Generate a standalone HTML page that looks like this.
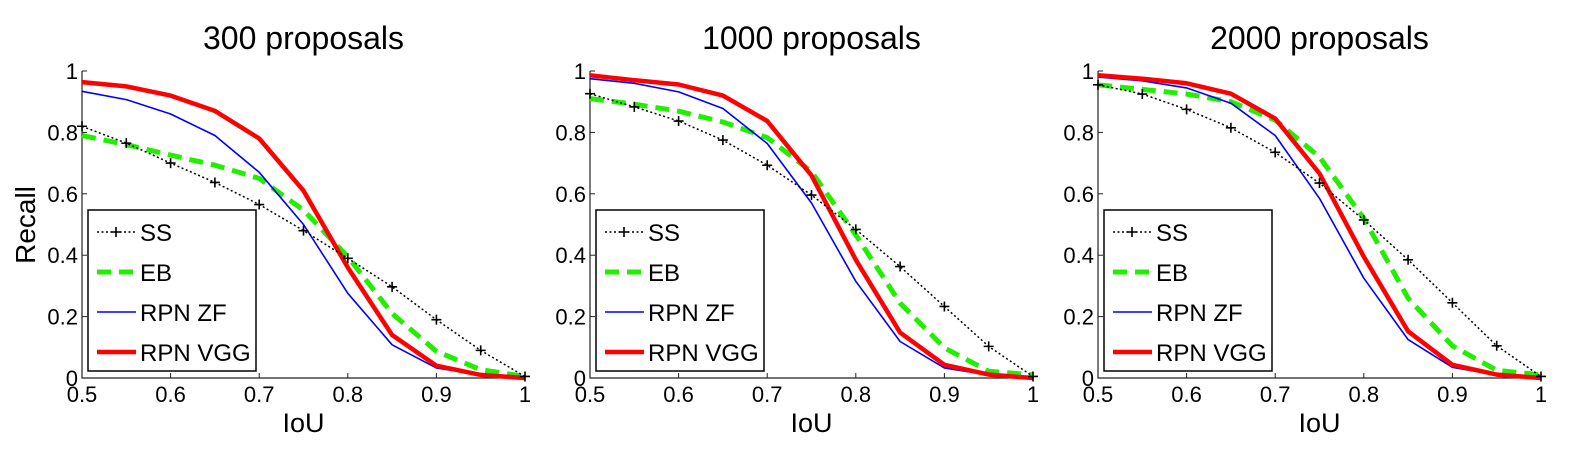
<!DOCTYPE html>
<html><head><meta charset="utf-8"><style>
html,body{margin:0;padding:0;background:#fff;}
svg{display:block;font-family:"Liberation Sans",sans-serif;}
</style></head><body>
<svg id="chart" width="1590" height="456" viewBox="0 0 1590 456"></svg>
<script>
const iouValues = [0.5,0.55,0.6,0.65,0.7,0.75,0.8,0.85,0.9,0.95,1];
const xTicks = [0.5,0.6,0.7,0.8,0.9,1];
const xTickLabels = ["0.5","0.6","0.7","0.8","0.9","1"];
const yTicks = [0,0.2,0.4,0.6,0.8,1];
const yTickLabels = ["0","0.2","0.4","0.6","0.8","1"];
const panelTitles = ["300 proposals","1000 proposals","2000 proposals"];
const seriesNames = ["SS","EB","RPN ZF","RPN VGG"];

const ss300 = [0.82,0.765,0.70,0.637,0.565,0.48,0.39,0.297,0.19,0.09,0.005];
const eb300 = [0.79,0.76,0.726,0.693,0.65,0.547,0.395,0.21,0.087,0.027,0.005];
const zf300 = [0.934,0.907,0.86,0.79,0.67,0.5,0.276,0.108,0.033,0.01,0];
const vgg300 = [0.964,0.95,0.92,0.87,0.78,0.61,0.36,0.14,0.04,0.01,0];

const ss1000 = [0.926,0.883,0.837,0.775,0.693,0.596,0.484,0.363,0.233,0.103,0.005];
const eb1000 = [0.91,0.892,0.869,0.834,0.783,0.672,0.466,0.244,0.098,0.022,0.01];
const zf1000 = [0.975,0.96,0.932,0.878,0.764,0.57,0.315,0.119,0.033,0.01,0];
const vgg1000 = [0.986,0.97,0.956,0.92,0.837,0.66,0.385,0.148,0.043,0.011,0];

const ss2000 = [0.955,0.925,0.875,0.815,0.735,0.635,0.515,0.385,0.245,0.105,0.005];
const eb2000 = [0.955,0.94,0.925,0.9,0.84,0.72,0.52,0.26,0.105,0.025,0.01];
const zf2000 = [0.98,0.968,0.945,0.895,0.79,0.585,0.325,0.125,0.035,0.01,0];
const vgg2000 = [0.986,0.975,0.96,0.926,0.845,0.666,0.395,0.152,0.043,0.011,0];

const panelData = [[ss300,eb300,zf300,vgg300],[ss1000,eb1000,zf1000,vgg1000],[ss2000,eb2000,zf2000,vgg2000]];

const NS="http://www.w3.org/2000/svg";
const svg=document.getElementById('chart');
function mk(tag,attrs,parent){const e=document.createElementNS(NS,tag);for(const k in attrs)e.setAttribute(k,attrs[k]);(parent||svg).appendChild(e);return e;}

const panelLefts=[82,590,1098];
const PW=443, TOP=71, BOT=378;
const styles=[
 {stroke:"#000",width:1.5,dash:"2,2.5"},
 {stroke:"#22ee00",width:5,dash:"14,8"},
 {stroke:"#0000ff",width:1.6,dash:""},
 {stroke:"#ff0000",width:4.5,dash:""}
];

panelLefts.forEach((L,p)=>{
  const g=mk('g',{});
  
  
  const xs=v=>L+(v-0.5)/0.5*PW;
  const ys=v=>BOT-v*(BOT-TOP);
  const t=mk('text',{x:L+PW/2,y:49,'font-size':32,'text-anchor':'middle',fill:'#000'},g);
  t.textContent=panelTitles[p];
  
  
  const ax=mk('path',{d:`M${L},${TOP} V${BOT} H${L+PW}`,stroke:'#222',fill:'none','stroke-width':1.2},g);
  
  
  yTicks.forEach((v,i)=>{
    mk('line',{x1:L,x2:L+5,y1:ys(v),y2:ys(v),stroke:'#222','stroke-width':1},g);
    const tl=mk('text',{x:L-4,y:ys(v)+8,'font-size':22,'text-anchor':'end',fill:'#000'},g);
    tl.textContent=yTickLabels[i];
    
    
  });
  xTicks.forEach((v,i)=>{
    mk('line',{x1:xs(v),x2:xs(v),y1:BOT,y2:BOT-5,stroke:'#222','stroke-width':1},g);
    const tl=mk('text',{x:xs(v),y:BOT+24,'font-size':22,'text-anchor':'middle',fill:'#000'},g);
    tl.textContent=xTickLabels[i];
    
    
  });
  const xt=mk('text',{x:L+PW/2,y:432,'font-size':27,'text-anchor':'middle',fill:'#000'},g);
  xt.textContent='IoU';
  
  
  if(p===0){
    const yt=mk('text',{x:0,y:0,'font-size':28,'text-anchor':'middle',fill:'#000',transform:'translate(35,225) rotate(-90)'},g);
    yt.textContent='Recall';
    
    
  }
  const order=[1,2,3,0];
  order.forEach(si=>{
    const vals=panelData[p][si];
    const d=vals.map((v,i)=>(i?'L':'M')+xs(iouValues[i]).toFixed(1)+','+ys(v).toFixed(1)).join(' ');
    const s=styles[si];
    const pl=mk('path',{d:d,fill:'none',stroke:s.stroke,'stroke-width':s.width,'stroke-dasharray':s.dash,'stroke-linejoin':'round'},g);
    
    
    if(si===0){
      vals.forEach((v,i)=>{
        const x=xs(iouValues[i]),y=ys(v);
        const m=mk('path',{d:`M${x-5},${y}H${x+5}M${x},${y-5}V${y+5}`,stroke:'#000','stroke-width':1.6},g);
        
        
      });
    }
  });
  const lg=mk('g',{},g);
  
  
  const lx=L+6, ly=210;
  mk('rect',{x:lx,y:ly,width:168,height:161,fill:'#fff',stroke:'#000','stroke-width':1.5},lg);
  seriesNames.forEach((n,si)=>{
    const ey=ly+22+si*40;
    const s=styles[si];
    const e=mk('g',{},lg);
    
    
    mk('line',{x1:lx+9,x2:lx+48,y1:ey,y2:ey,stroke:s.stroke,'stroke-width':s.width,'stroke-dasharray':s.dash},e);
    if(si===0) mk('path',{d:`M${lx+23},${ey}H${lx+33}M${lx+28},${ey-5}V${ey+5}`,stroke:'#000','stroke-width':1.6},e);
    const tx=mk('text',{x:lx+52,y:ey+9,'font-size':24,fill:'#000'},e);
    tx.textContent=n;
  });
});
</script>
</body></html>
